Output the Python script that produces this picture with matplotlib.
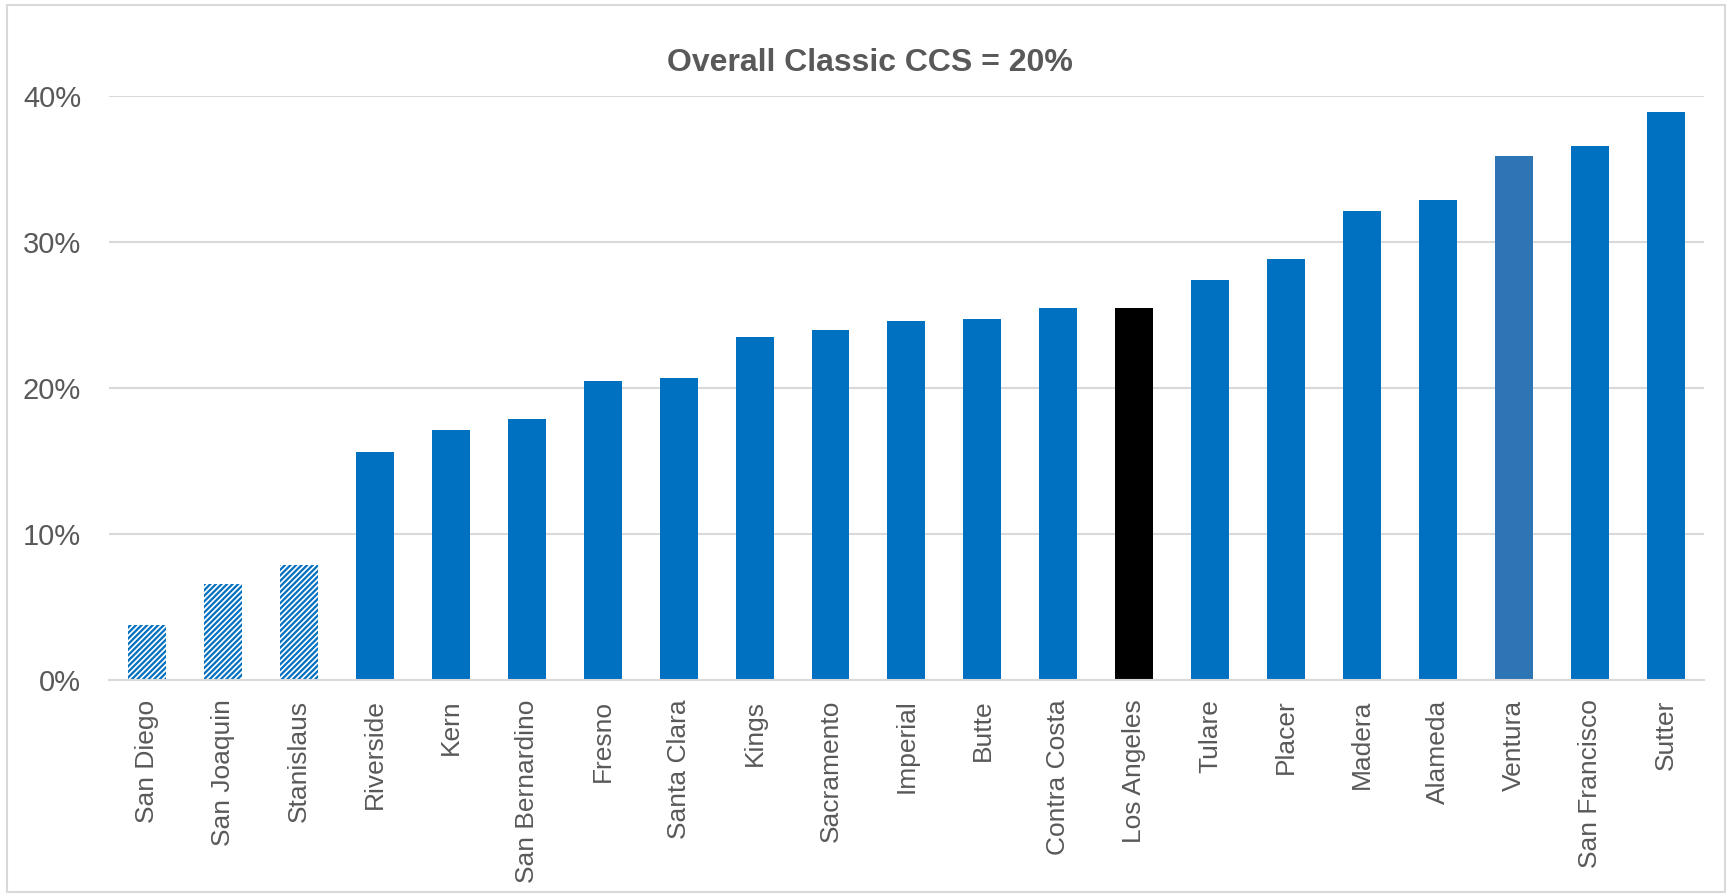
import matplotlib
matplotlib.use("Agg")
import matplotlib.pyplot as plt
from matplotlib.patches import Rectangle
from matplotlib.ticker import FuncFormatter

counties = ["San Diego", "San Joaquin", "Stanislaus", "Riverside", "Kern",
            "San Bernardino", "Fresno", "Santa Clara", "Kings", "Sacramento",
            "Imperial", "Butte", "Contra Costa", "Los Angeles", "Tulare",
            "Placer", "Madera", "Alameda", "Ventura", "San Francisco", "Sutter"]
ccs_pct = [3.8, 6.6, 7.9, 15.6, 17.1, 17.9, 20.5, 20.7, 23.5, 24.0,
           24.6, 24.7, 25.5, 25.5, 27.4, 28.8, 32.1, 32.9, 35.9, 36.6, 38.9]
hatched = ["San Diego", "San Joaquin", "Stanislaus"]

blue = "#0070C0"
grey_txt = "#595959"
grid_c = "#D9D9D9"

plt.rcParams["font.family"] = ["Liberation Sans", "DejaVu Sans"]
plt.rcParams["hatch.linewidth"] = 1.6
plt.rcParams["hatch.color"] = blue

fig = plt.figure(figsize=(17.32, 8.96), dpi=100)
ax = fig.add_axes([0.0629, 0.241, 0.9209, 0.652])

x = range(len(counties))
bars = ax.bar(x, ccs_pct, width=0.5, color=blue, zorder=3)
for b, name in zip(bars, counties):
    if name in hatched:
        b.set_facecolor("white")
        b.set_hatch("//////")
        b.set_edgecolor(blue)
        b.set_linewidth(0)
    elif name == "Los Angeles":
        b.set_facecolor("black")
    elif name == "Ventura":
        b.set_facecolor("#2E75B6")

ax.set_xlim(-0.5, len(counties) - 0.5)
ax.set_ylim(0, 40)
ax.set_yticks([0, 10, 20, 30, 40])
ax.yaxis.set_major_formatter(FuncFormatter(lambda v, p: f"{v:.0f}%"))
ax.grid(axis="y", color=grid_c, linewidth=1.5, zorder=0)
for s in ["top", "right", "left"]:
    ax.spines[s].set_visible(False)
ax.spines["bottom"].set_color(grid_c)
ax.spines["bottom"].set_linewidth(1.5)
ax.spines["bottom"].set_zorder(4)

ax.set_xticks(list(x))
ax.set_xticklabels(counties, rotation=90, fontsize=19, color=grey_txt)
ax.tick_params(axis="x", length=0, pad=14)
ax.tick_params(axis="y", length=0, pad=20, labelsize=21, labelcolor=grey_txt)

fig.text(0.502, 0.93, "Overall Classic CCS = 20%", fontsize=23, fontweight="bold",
         color=grey_txt, ha="center", va="center")

# thin frame around the whole chart
fig.patches.append(Rectangle((0.004, 0.004), 0.992, 0.99, transform=fig.transFigure,
                             fill=False, edgecolor=grid_c, linewidth=1.5))

fig.savefig("out.png", dpi=100)
